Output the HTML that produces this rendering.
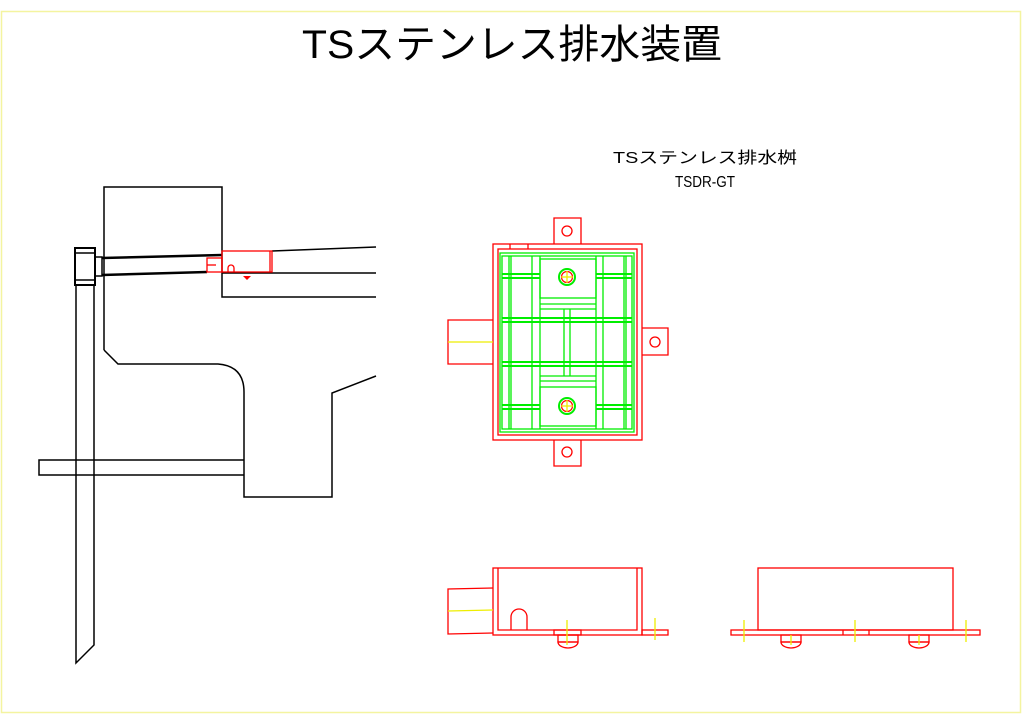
<!DOCTYPE html>
<html><head><meta charset="utf-8"><style>
html,body{margin:0;padding:0;background:#fff;width:1024px;height:724px;overflow:hidden}
svg{display:block}
text{font-family:"Liberation Sans","Noto Sans CJK JP",sans-serif}
</style></head><body>
<svg width="1024" height="724" viewBox="0 0 1024 724">
<rect x="1.5" y="11.5" width="1019" height="701" fill="none" stroke="#f4f4a0" stroke-width="1.5"/>
<text x="512" y="58" font-size="40" text-anchor="middle" textLength="420" lengthAdjust="spacingAndGlyphs">TSステンレス排水装置</text>
<text x="705" y="163" font-size="16" text-anchor="middle" textLength="184" lengthAdjust="spacingAndGlyphs">TSステンレス排水桝</text>
<text x="705" y="187" font-size="16" text-anchor="middle" textLength="60" lengthAdjust="spacingAndGlyphs">TSDR-GT</text>

<g fill="none" stroke="#000" stroke-width="1.5">
<polyline points="104,350 104,187 222,187 222,297 376,297"/>
<path d="M104,350 L118,364 L218,364 Q244,366 244,392 L244,497 L332,497 L332,393 L376,376"/>
<line x1="272" y1="251" x2="376" y2="247"/>
<line x1="222" y1="273" x2="376" y2="273"/>
<polyline points="244,460 39,460 39,475 244,475"/>
<polyline points="76,285 76,663 94,645 94,285"/>
<rect x="75" y="248" width="20" height="37" stroke-width="2"/>
<line x1="75" y1="253" x2="95" y2="253"/>
<line x1="75" y1="280" x2="95" y2="280"/>
<rect x="95" y="257" width="7" height="19"/>
<line x1="102" y1="258" x2="222" y2="255" stroke-width="2.5"/>
<line x1="102" y1="275" x2="207" y2="272" stroke-width="2.5"/>
</g>
<g fill="none" stroke="#f00" stroke-width="1.3">
<rect x="222" y="251" width="50" height="21"/>
<line x1="270" y1="251" x2="270" y2="272"/>
<rect x="207" y="258" width="15" height="14"/>
<line x1="207" y1="265" x2="216" y2="265"/>
<path d="M228,272 V268 a3,3 0 0 1 6,0 V272"/>
</g>
<path d="M243,276 h8 l-4,4z" fill="#f00"/>

<!-- top view -->
<g fill="none" stroke="#f00" stroke-width="1.3">
<rect x="493" y="244" width="149" height="196"/>
<rect x="498" y="249" width="139" height="186"/>
<line x1="510" y1="244" x2="510" y2="249"/><line x1="528" y1="244" x2="528" y2="249"/>
<polyline points="554,244 554,218 581,218 581,244"/>
<circle cx="567" cy="231" r="5"/>
<polyline points="554,440 554,466 581,466 581,440"/>
<circle cx="567" cy="452" r="5"/>
<polyline points="642,328 668,328 668,355 642,355"/>
<circle cx="655" cy="342" r="5"/>
<polyline points="493,320 448,320 448,364 493,364"/>
</g>
<line x1="448" y1="342" x2="493" y2="342" stroke="#ee0" stroke-width="1.3"/>
<g fill="none" stroke="#0e0" stroke-width="1.3">
<rect x="500" y="253" width="134" height="179"/>
<rect x="502" y="256" width="130" height="173"/>
<line x1="509" y1="256" x2="509" y2="429"/><line x1="511" y1="256" x2="511" y2="429"/>
<line x1="532" y1="256" x2="532" y2="429"/><line x1="540" y1="256" x2="540" y2="429"/>
<line x1="596" y1="256" x2="596" y2="429"/><line x1="603" y1="256" x2="603" y2="429"/>
<line x1="624" y1="256" x2="624" y2="429"/><line x1="626" y1="256" x2="626" y2="429"/>
<rect x="540" y="259" width="56" height="39"/>
<rect x="540" y="387" width="56" height="39"/>
<line x1="540" y1="304" x2="596" y2="304"/><line x1="540" y1="309" x2="596" y2="309"/>
<line x1="540" y1="376" x2="596" y2="376"/><line x1="540" y1="381" x2="596" y2="381"/>
<line x1="564" y1="309" x2="564" y2="376"/><line x1="570" y1="309" x2="570" y2="376"/>
<line x1="502" y1="318" x2="632" y2="318" stroke-width="2"/><line x1="502" y1="322" x2="632" y2="322" stroke-width="2"/>
<line x1="502" y1="362" x2="632" y2="362" stroke-width="2"/><line x1="502" y1="366" x2="632" y2="366" stroke-width="2"/>
<line x1="502" y1="274" x2="540" y2="274" stroke-width="2"/><line x1="502" y1="278" x2="540" y2="278" stroke-width="2"/>
<line x1="596" y1="274" x2="632" y2="274" stroke-width="2"/><line x1="596" y1="278" x2="632" y2="278" stroke-width="2"/>
<line x1="502" y1="405" x2="540" y2="405" stroke-width="2"/><line x1="502" y1="409" x2="540" y2="409" stroke-width="2"/>
<line x1="596" y1="405" x2="632" y2="405" stroke-width="2"/><line x1="596" y1="409" x2="632" y2="409" stroke-width="2"/>
<circle cx="567" cy="277" r="8" stroke-width="2"/>
<circle cx="567" cy="406" r="8" stroke-width="2"/>
</g>
<g fill="none" stroke="#f00" stroke-width="1.2">
<circle cx="567" cy="277" r="5.5"/><circle cx="567" cy="406" r="5.5"/>
</g>
<g stroke="#ee0" stroke-width="1.3">
<line x1="561" y1="277" x2="573" y2="277"/><line x1="567" y1="271" x2="567" y2="283"/>
<line x1="561" y1="406" x2="573" y2="406"/><line x1="567" y1="400" x2="567" y2="412"/>
</g>

<!-- side view left -->
<g fill="none" stroke="#f00" stroke-width="1.3">
<rect x="493" y="568" width="149" height="67"/>
<polyline points="498,568 498,630 637,630 637,568"/>
<rect x="642" y="630" width="26" height="5"/>
<polyline points="493,588 448,589 448,634 493,633"/>
<path d="M511,630 V617 a8,8 0 0 1 16,0 V630"/>
<rect x="554" y="630" width="27" height="5"/>
<rect x="558" y="635" width="20" height="7"/>
<path d="M558,642 h20 a10,6 0 0 1 -20,0z"/>
</g>
<line x1="448" y1="611" x2="493" y2="610" stroke="#ee0" stroke-width="1.3"/>
<g stroke="#ee0" stroke-width="1.3">
<line x1="567" y1="620" x2="567" y2="645"/>
<line x1="655" y1="618" x2="655" y2="640"/>
</g>

<!-- side view right -->
<g fill="none" stroke="#f00" stroke-width="1.3">
<rect x="758" y="568" width="195" height="62"/>
<rect x="731" y="630" width="249" height="5"/>
<line x1="843" y1="630" x2="843" y2="635"/><line x1="869" y1="630" x2="869" y2="635"/>
<rect x="781" y="635" width="20" height="7"/>
<path d="M781,642 h20 a10,6 0 0 1 -20,0z"/>
<rect x="909" y="635" width="20" height="7"/>
<path d="M909,642 h20 a10,6 0 0 1 -20,0z"/>
</g>
<g stroke="#ee0" stroke-width="1.3">
<line x1="744" y1="620" x2="744" y2="642"/>
<line x1="855" y1="620" x2="855" y2="642"/>
<line x1="966" y1="620" x2="966" y2="642"/>
<line x1="791" y1="635" x2="791" y2="645"/>
<line x1="919" y1="635" x2="919" y2="645"/>
</g>
</svg>
</body></html>
